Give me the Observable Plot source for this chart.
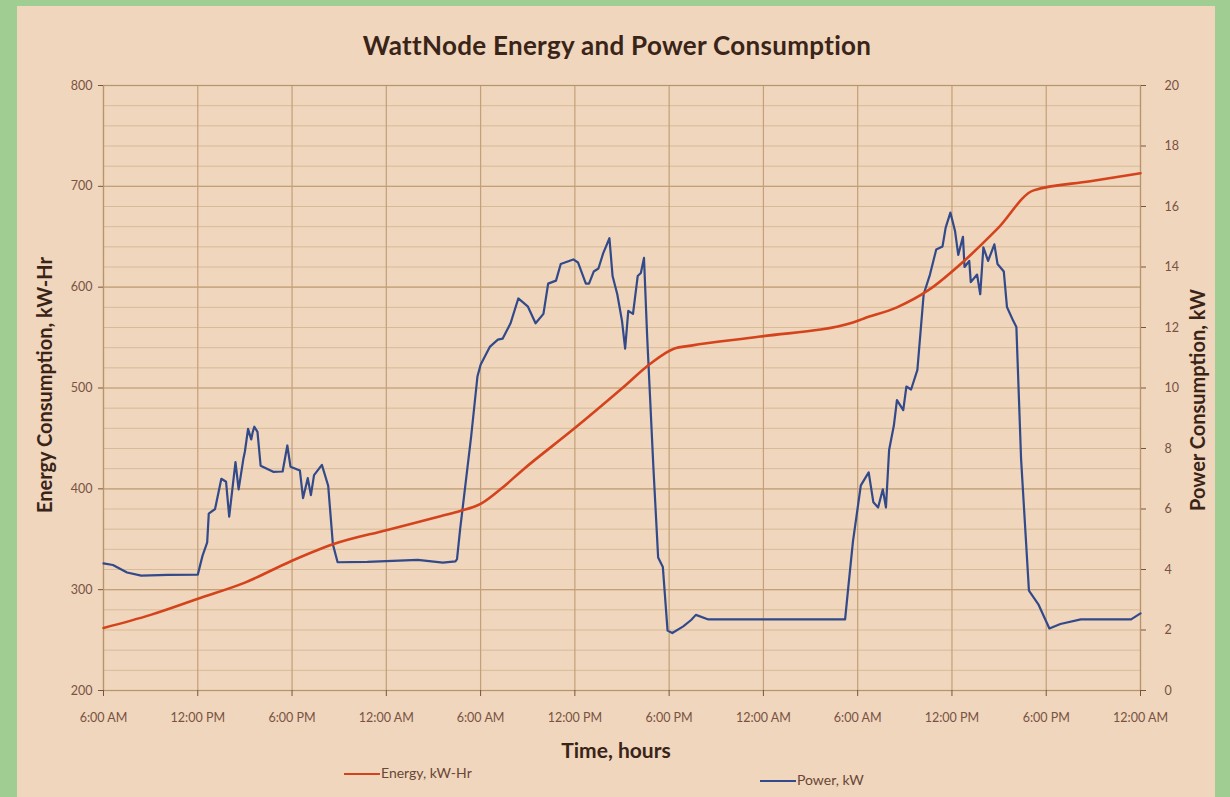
<!DOCTYPE html>
<html><head><meta charset="utf-8">
<script src="https://cdn.jsdelivr.net/npm/d3@7"></script>
<script src="https://cdn.jsdelivr.net/npm/@observablehq/plot@0.6"></script>
<style>
body{margin:0;background:#9fcd92;width:1230px;height:797px;overflow:hidden;position:relative;font-family:Lato,"Open Sans",sans-serif}
#paper{position:absolute;left:17px;top:6px;width:1198px;height:791px;background:#efd6bd}
#chart{position:absolute;left:0;top:0}
.t{position:absolute;white-space:nowrap;color:#3a2418}
#title{left:0;width:1234px;text-align:center;top:29px;font-size:26px;font-weight:700;letter-spacing:0.3px}
#ylab{left:44px;top:385px;transform:translate(-50%,-50%) rotate(-90deg);font-size:20px;font-weight:700}
#y2lab{left:1197px;top:400px;transform:translate(-50%,-50%) rotate(-90deg);font-size:20px;font-weight:700}
#xlab{left:0;width:1232px;text-align:center;top:737px;font-size:21px;font-weight:700}
.leg{position:absolute;font-size:14px;color:#6a4636;top:764px}
.leg span{display:inline-block;width:36px;height:0;border-top:2.5px solid;vertical-align:middle;margin-right:1px}
</style></head>
<body>
<div id="paper"></div>
<div id="chart"></div>
<div class="t" id="title">WattNode Energy and Power Consumption</div>
<div class="t" id="ylab">Energy Consumption, kW-Hr</div>
<div class="t" id="y2lab">Power Consumption, kW</div>
<div class="t" id="xlab">Time, hours</div>
<div class="leg" style="left:344px"><span style="border-color:#d4431c"></span>Energy, kW-Hr</div>
<div class="leg" style="left:760px;top:771px"><span style="border-color:#32498a"></span>Power, kW</div>
<script>
// Time axis: hours since 6:00 AM of day 1
const xTickHours = [0, 6, 12, 18, 24, 30, 36, 42, 48, 54, 60, 66];
const xTickLabels = ["6:00 AM","12:00 PM","6:00 PM","12:00 AM","6:00 AM","12:00 PM","6:00 PM","12:00 AM","6:00 AM","12:00 PM","6:00 PM","12:00 AM"];
const energyTicks = [200, 300, 400, 500, 600, 700, 800];
const powerTicks = [0, 2, 4, 6, 8, 10, 12, 14, 16, 18, 20];

// Energy, kW-Hr (cumulative)
const energyHours = [0, 3, 6.2, 9, 11.9, 14.6, 18, 21.5, 22.7, 24.0, 25.3, 26.7, 29.9, 33.1, 34.8, 36.3, 37.4, 41.8, 47.7, 48.4, 50.5, 52.5, 54.7, 56.9, 59.2, 62.8, 66];
const energyKWh  = [262, 275, 292, 307, 328, 345, 359, 373, 378, 385, 400, 419, 459, 501, 524, 539, 542, 551, 565, 569, 580, 597, 625, 658, 696, 705, 713];

// Power, kW
const powerHours = [0,0.6,1.5,2.4,4.1,6.0,6.3,6.6,6.7,7.1,7.5,7.8,8.0,8.2,8.4,8.6,8.9,9.0,9.2,9.4,9.5,9.6,9.8,10.0,10.8,11.4,11.7,11.9,12.5,12.7,13.0,13.2,13.4,13.9,14.3,14.6,14.9,16.8,20.0,21.6,22.4,22.5,22.7,23.4,23.8,24.0,24.6,25.1,25.4,25.9,26.4,27.0,27.5,28.0,28.3,28.8,29.1,29.9,30.2,30.7,30.9,31.2,31.5,31.8,32.2,32.4,32.7,33.0,33.2,33.4,33.7,34.0,34.2,34.4,34.6,35.0,35.3,35.6,35.9,36.2,36.9,37.4,37.7,38.5,41.8,46.3,47.2,47.4,47.7,48.2,48.7,49.0,49.3,49.6,49.8,50.0,50.3,50.5,50.9,51.1,51.4,51.8,52.2,52.6,53.0,53.4,53.6,53.9,54.2,54.4,54.7,54.8,55.1,55.2,55.6,55.8,56.0,56.3,56.7,56.9,57.3,57.5,57.9,58.1,58.4,58.9,59.5,60.2,60.9,62.2,65.4,66.0];
const powerKW = [4.2,4.15,3.9,3.8,3.82,3.83,4.45,4.9,5.85,6.0,7.0,6.9,5.75,6.65,7.55,6.65,7.65,7.9,8.65,8.3,8.55,8.72,8.55,7.43,7.23,7.24,8.1,7.4,7.27,6.36,7.02,6.46,7.12,7.46,6.77,4.83,4.24,4.25,4.32,4.23,4.27,4.34,5.34,8.4,10.38,10.77,11.37,11.6,11.63,12.13,12.96,12.7,12.14,12.45,13.45,13.55,14.1,14.25,14.15,13.45,13.45,13.85,13.95,14.45,14.95,13.7,13.1,12.22,11.3,12.55,12.45,13.7,13.8,14.3,11.72,7.35,4.4,4.08,1.98,1.9,2.12,2.33,2.5,2.35,2.35,2.35,2.35,3.4,4.93,6.78,7.21,6.22,6.05,6.65,6.05,7.95,8.75,9.6,9.27,10.05,9.95,10.6,13.1,13.75,14.58,14.68,15.3,15.8,15.18,14.4,15.0,14.0,14.2,13.5,13.75,13.1,14.65,14.2,14.75,14.1,13.85,12.68,12.22,12.02,7.65,3.3,2.85,2.05,2.2,2.35,2.35,2.55];

const energy = energyHours.map((h, i) => ({h, e: energyKWh[i]}));
const power = powerHours.map((h, i) => ({h, p: powerKW[i]}));
// secondary axis: 0–20 kW aligned to 200–800 kW-Hr
const toPrimary = p => 200 + p * 30;
const minorGrid = d3.range(200, 801, 20);

const tickColor = "#7a5242";
const chart = Plot.plot({
  width: 1230, height: 797,
  marginLeft: 103, marginRight: 90, marginTop: 85, marginBottom: 107,
  style: {background: "transparent", fontFamily: "Lato, 'Open Sans', sans-serif", fontSize: "12.5px"},
  x: {domain: [0, 66]},
  y: {domain: [200, 800]},
  marks: [
    Plot.ruleY(minorGrid, {stroke: "#d7bb98", strokeWidth: 1}),
    Plot.ruleY(energyTicks, {stroke: "#c4a077", strokeWidth: 1.2}),
    Plot.ruleX(xTickHours, {stroke: "#c4a077", strokeWidth: 1.2}),
    Plot.frame({stroke: "#b8946a", strokeWidth: 1.2}),
    Plot.axisY({anchor: "left", ticks: energyTicks, tickSize: 5, tickPadding: 6, label: null, color: tickColor}),
    Plot.axisY({anchor: "right", ticks: powerTicks.map(toPrimary), tickFormat: d => String(Math.round((d - 200) / 30)), tickSize: 5, tickPadding: 19, label: null, color: tickColor}),
    Plot.axisX({ticks: xTickHours, tickFormat: (d, i) => xTickLabels[i], tickSize: 6, tickPadding: 17, label: null, color: tickColor}),
    Plot.line(power, {x: "h", y: d => toPrimary(d.p), stroke: "#32498a", strokeWidth: 2.2, strokeLinejoin: "round"}),
    Plot.line(energy, {x: "h", y: "e", stroke: "#d4431c", strokeWidth: 2.6, curve: "monotone-x"})
  ]
});
document.getElementById("chart").append(chart);
</script>
</body></html>
